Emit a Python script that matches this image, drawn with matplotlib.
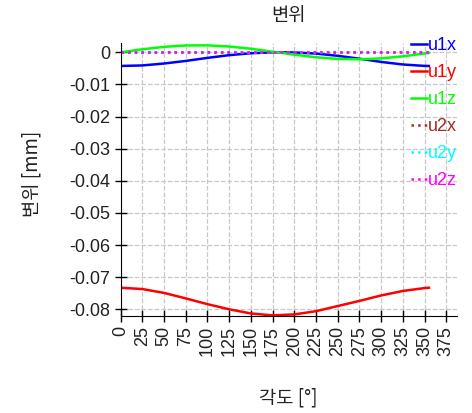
import matplotlib
matplotlib.use("Agg")
import matplotlib.pyplot as plt

# ─── Data ─────────────────────────────────────────────────────────────────────

angle = [0, 25, 50, 75, 100, 125, 150, 175, 200, 225, 250, 275, 300, 325, 350, 355]

u1x = [-0.00426, -0.00410, -0.00350, -0.00270, -0.00175, -0.00090, -0.00030, -0.00002,
       -0.00005, -0.00040, -0.00110, -0.00200, -0.00300, -0.00380, -0.00424, -0.00426]
u1y = [-0.0733, -0.0737, -0.0749, -0.0766, -0.0784, -0.0800, -0.0813, -0.0819,
       -0.0816, -0.0806, -0.0790, -0.0774, -0.0757, -0.0743, -0.0734, -0.0733]
u1z = [0.00000, 0.00093, 0.00168, 0.00212, 0.00216, 0.00180, 0.00110, 0.00019,
       -0.00075, -0.00155, -0.00207, -0.00219, -0.00190, -0.00126, -0.00038, -0.00019]
u2x = [0.0] * len(angle)
u2y = [0.0] * len(angle)
u2z = [0.0] * len(angle)

x_ticks = [0, 25, 50, 75, 100, 125, 150, 175, 200, 225, 250, 275, 300, 325, 350, 375]
y_ticks = [0, -0.01, -0.02, -0.03, -0.04, -0.05, -0.06, -0.07, -0.08]

plt.rcParams["font.family"] = ["Liberation Sans", "DejaVu Sans"]
KR = ["Noto Sans CJK KR", "Liberation Sans", "DejaVu Sans"]

# ─── Figure ───────────────────────────────────────────────────────────────────

fig = plt.figure(figsize=(4.72, 4.13), dpi=100)
ax = fig.add_axes([0.2553, 0.2356, 0.7123, 0.6596])

ax.plot(angle, u1x, color="#0000ff", lw=1.8, label="u1x")
ax.plot(angle, u1y, color="#ff0000", lw=1.8, label="u1y")
ax.plot(angle, u1z, color="#00ff00", lw=1.8, label="u1z")
ax.plot(angle, u2x, color="#a52a2a", lw=1.8, ls=":", label="u2x")
ax.plot(angle, u2y, color="#00ffff", lw=1.8, ls=":", label="u2y")
ax.plot(angle, u2z, color="#ff00ff", lw=1.8, ls=":", label="u2z")

ax.set_xlim(0, 387)
ax.set_ylim(-0.0820, 0.0028)
ax.set_xticks(x_ticks)
ax.set_yticks(y_ticks)
ax.set_yticklabels(["0" if v == 0 else f"{v:g}" for v in y_ticks])
ax.tick_params(axis="both", direction="inout", length=8, width=1,
               labelsize=13, labelcolor="#222222")
ax.tick_params(axis="x", labelrotation=90)

ax.grid(True, color="#c8c8c8", ls="--", lw=0.9)
ax.set_axisbelow(True)
for side in ("top", "right"):
    ax.spines[side].set_visible(False)

ax.set_title("변위", family=KR, fontsize=13.5, color="#222222", pad=16)
ax.set_xlabel("각도 [°]", family=KR, fontsize=13.5, color="#222222")
ax.set_ylabel("변위 [mm]", family=KR, fontsize=13.5, color="#222222")
ax.xaxis.set_label_coords(0.5, -0.262)
ax.yaxis.set_label_coords(-0.233, 0.52)

ax.legend(loc="upper right", bbox_to_anchor=(1.0, 1.022), frameon=False,
          fontsize=13, handlelength=0.85, handletextpad=0.05,
          labelspacing=0.55, borderaxespad=0, borderpad=0,
          labelcolor="linecolor")

fig.savefig("out.png", dpi=100)
